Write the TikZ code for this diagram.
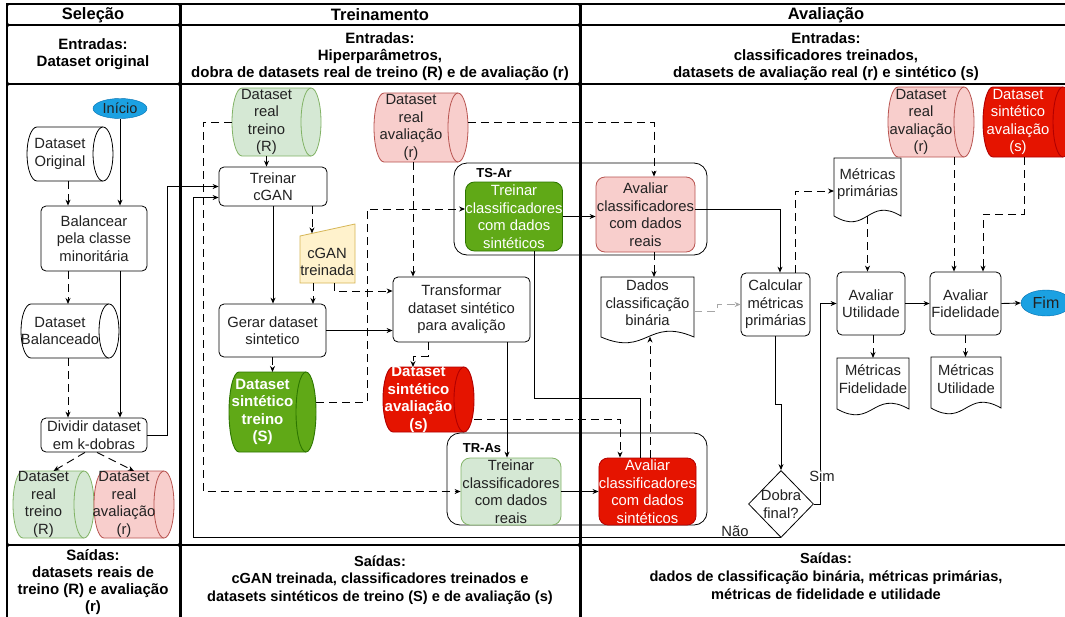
\documentclass[tikz,border=0pt]{standalone}
\usepackage{fontspec}
\setmainfont{Liberation Sans}
\usetikzlibrary{shapes.geometric,arrows.meta,calc}
\definecolor{lgfill}{HTML}{D5E8D4}\definecolor{lgdraw}{HTML}{82B366}
\definecolor{pkfill}{HTML}{F8CECC}\definecolor{pkdraw}{HTML}{B85450}
\definecolor{dgfill}{HTML}{60A917}\definecolor{dgdraw}{HTML}{2D7600}
\definecolor{rdfill}{HTML}{E51400}\definecolor{rddraw}{HTML}{B20000}
\definecolor{yefill}{HTML}{FFF2CC}\definecolor{yedraw}{HTML}{D6B656}
\definecolor{blfill}{HTML}{1BA1E2}\definecolor{bldraw}{HTML}{006EAF}
\definecolor{dtxt}{HTML}{222222}
\newcommand{\mybox}[7]{%
  \pgfmathsetmacro{\mbw}{#4-#2}\pgfmathsetmacro{\mbh}{#5-#3}%
  \pgfmathsetmacro{\mbx}{(#2+#4)/2}\pgfmathsetmacro{\mby}{(#3+#5)/2}%
  \node[#6, minimum width=\mbw pt, minimum height=\mbh pt] (#1) at (\mbx,\mby) {#7};}
\newcommand{\mycyl}[8]{%
  \pgfmathsetmacro{\cyry}{(#5-#3)/2}\pgfmathsetmacro{\cxa}{#2+10}\pgfmathsetmacro{\cxb}{#4-10}%
  \pgfmathsetmacro{\mbw}{#4-#2}\pgfmathsetmacro{\mbh}{#5-#3}%
  \pgfmathsetmacro{\mbx}{(#2+#4)/2}\pgfmathsetmacro{\mby}{(#3+#5)/2}\pgfmathsetmacro{\mbt}{(#2+#4)/2-10}%
  \filldraw[#6] (\cxb,#3) -- (\cxa,#3) arc[start angle=90,end angle=270,x radius=10pt,y radius=\cyry pt] -- (\cxb,#5) arc[start angle=-90,end angle=90,x radius=10pt,y radius=\cyry pt] -- cycle;
  \draw[#6] (\cxb,#5) arc[start angle=-90,end angle=-270,x radius=10pt,y radius=\cyry pt];
  \node[inner sep=0pt, outer sep=0pt, minimum width=\mbw pt, minimum height=\mbh pt] (#1) at (\mbx,\mby) {};
  \node[#7] (#1-t) at (\mbt,\mby) {#8};}
\newcommand{\mydoc}[7]{%
  \pgfmathsetmacro{\dxm}{(#2+#4)/2}\pgfmathsetmacro{\mbw}{#4-#2}\pgfmathsetmacro{\mbh}{#5-#3}\pgfmathsetmacro{\mby}{(#3+#5)/2}%
  \filldraw[docst] (#2,#5) -- (#2,#3) -- (#4,#3) -- (#4,#5) .. controls (\dxm,#5-20) and (\dxm,#5+20) .. (#2,#5) -- cycle;
  \node[inner sep=0pt, outer sep=0pt, minimum width=\mbw pt, minimum height=\mbh pt] (#1) at (\dxm,\mby) {};
  \node[txt] (#1-t) at (\dxm,#7) {#6};}
\begin{document}
\begin{tikzpicture}[x=1pt,y=-1pt,
  txt/.style={font=\fontsize{14.8}{17.5}\selectfont, align=center, inner sep=0pt, text=dtxt},
  txtw/.style={txt, text=white},
  txtwb/.style={font=\fontsize{15}{17.5}\selectfont\bfseries, align=center, inner sep=0pt, text=white},
  hdr/.style={font=\fontsize{16.5}{19}\selectfont\bfseries, align=center, inner sep=0pt},
  inp/.style={font=\fontsize{15}{17}\selectfont\bfseries, align=center, inner sep=0pt},
  outp/.style={font=\fontsize{14.6}{17.8}\selectfont\bfseries, align=center, inner sep=0pt},
  lbl/.style={font=\fontsize{13}{15}\selectfont\bfseries, inner sep=0pt},
  cell/.style={line width=1.6pt, rounded corners=2.5pt},
  proc/.style={draw, fill=white, rounded corners=5pt, line width=0.8pt, txt},
  procdg/.style={proc, fill=dgfill, draw=dgdraw, text=white, rounded corners=9pt},
  procp/.style={proc, fill=pkfill, draw=pkdraw, rounded corners=9pt},
  proclg/.style={proc, fill=lgfill, draw=lgdraw, rounded corners=9pt},
  procr/.style={proc, fill=rdfill, draw=rddraw, text=white, rounded corners=9pt},
  cont/.style={draw, rounded corners=13pt, line width=0.8pt},
  cylw/.style={draw=black, fill=white, line width=0.8pt},
  cylg/.style={draw=lgdraw, fill=lgfill, line width=0.8pt},
  cylp/.style={draw=pkdraw, fill=pkfill, line width=0.8pt},
  cyldg/.style={draw=dgdraw, fill=dgfill, line width=0.9pt},
  cylr/.style={draw=rddraw, fill=rdfill, line width=0.9pt},
  docst/.style={draw=black, fill=white, line width=0.8pt},
  ell/.style={ellipse, draw=bldraw, fill=blfill, inner sep=0pt, font=\fontsize{14.5}{17}\selectfont, text=dtxt},
  arr/.style={-{Stealth[length=6pt,width=5pt]}, line width=0.9pt},
  dsh/.style={arr, dash pattern=on 8pt off 5pt},
  dshg/.style={dsh, draw=gray!70},
  plain/.style={line width=0.9pt}
]
\useasboundingbox (0,0) rectangle (1065,616);
\fill[white] (0,0) rectangle (1065,616);
% table
\foreach \ca/\cb in {7/180,180/580,580/1080}{
  \draw[cell] (\ca,4) rectangle (\cb,25);
  \draw[cell] (\ca,25) rectangle (\cb,84);
  \draw[cell] (\ca,84) rectangle (\cb,545);
  \draw[cell] (\ca,545) rectangle (\cb,640);
}
\draw[line width=3pt] (180,3) -- (180,640);
\draw[line width=3pt] (580,3) -- (580,640);
\draw[line width=2.6pt] (7,640) -- (7,4) -- (1080,4);
\node[hdr] (h1) at (93,15) {Seleção};
\node[hdr] (h2) at (380,15) {Treinamento};
\node[hdr] (h3) at (826,15) {Avaliação};
\node[inp] (i1) at (93,54) {Entradas:\\Dataset original};
\node[inp] (i2) at (380,57) {Entradas:\\Hiperparâmetros,\\dobra de datasets real de treino (R) e de avaliação (r)};
\node[inp] (i3) at (826,57) {Entradas:\\classificadores treinados,\\datasets de avaliação real (r) e sintético (s)};
\node[outp, font=\fontsize{15}{17}\selectfont\bfseries] (o1) at (93,582) {Saídas:\\datasets reais de\\treino (R) e avaliação\\(r)};
\node[outp] (o2) at (380,580) {Saídas:\\cGAN treinada, classificadores treinados e\\datasets sintéticos de treino (S) e de avaliação (s)};
\node[outp] (o3) at (826,576) {Saídas:\\dados de classificação binária, métricas primárias,\\métricas de fidelidade e utilidade};

% Selecao
\node[ell, minimum width=54pt, minimum height=20pt] (inicio) at (120,108.5) {Início};
\mycyl{dsorig}{27}{127}{113}{181}{cylw}{txt}{Dataset\\Original}
\mybox{balancear}{41}{206}{147}{271}{proc}{Balancear\\pela classe\\minoritária}
\mycyl{dsbal}{21}{304}{119}{358}{cylw}{txt}{Dataset\\Balanceado}
\mybox{dividir}{41}{418}{147}{452}{proc}{Dividir dataset\\em k-dobras}
\mycyl{dsrt1}{13}{471}{94}{538}{cylg}{txt}{Dataset\\real\\treino\\(R)}
\mycyl{dsra1}{94}{471}{174}{538}{cylp}{txt}{Dataset\\real\\avaliação\\(r)}

% Treinamento
\mycyl{dsrt2}{232}{88}{321}{156}{cylg}{txt}{Dataset\\real\\treino\\(R)}
\mycyl{dsra2}{374}{93}{468}{162}{cylp}{txt}{Dataset\\real\\avaliação\\(r)}
\mybox{tcgan}{219}{167}{327}{206}{proc}{Treinar\\cGAN}
\node[inner sep=0pt, outer sep=0pt, minimum width=55pt, minimum height=59pt] (cgant) at (327.5,253.5) {};
\filldraw[fill=yefill, draw=yedraw, line width=0.8pt] ($(cgant.north west)+(0,12)$) -- (cgant.north east) -- (cgant.south east) -- (cgant.south west) -- cycle;
\node[txt] (cgant-t) at (327,262) {cGAN\\treinada};
\mybox{gerar}{219}{304}{326}{357}{proc}{Gerar dataset\\sintetico}
\mycyl{dsst}{229}{372}{316}{452}{cyldg}{txtwb}{Dataset\\sintético\\treino\\(S)}
\mybox{transf}{393}{277}{530}{342}{proc}{Transformar\\dataset sintético\\para avalição}
\mycyl{dssa}{383}{367}{474}{432}{cylr}{txtwb}{Dataset\\sintético\\avaliação\\(s)}
\mybox{tsar}{454}{163}{707}{255}{cont}{}
\node[lbl] (tsarl) at (494,173) {TS-Ar};
\mybox{tsg}{467}{182}{561}{251}{procdg}{Treinar\\classificadores\\com dados\\sintéticos}
\mybox{avr}{596}{177}{695}{252}{procp}{Avaliar\\classificadores\\com dados\\reais}
\mybox{trasc}{447}{433}{707}{525}{cont}{}
\node[lbl] (trasl) at (482,448) {TR-As};
\mybox{tras}{461}{458}{561}{525}{proclg}{Treinar\\classificadores\\com dados\\reais}
\mybox{avs}{601}{458}{694}{525}{procr}{Avaliar\\classificadores\\com dados\\sintéticos}

% Avaliacao
\mydoc{dados}{601}{277}{694}{337}{Dados\\classificação\\binária}{303}
\mybox{calc}{741}{273}{810}{336}{proc}{Calcular\\métricas\\primárias}
\mydoc{metp}{834}{158}{901}{216}{Métricas\\primárias}{184}
\mybox{util}{837}{272}{905}{335}{proc}{Avaliar\\Utilidade}
\mybox{fid}{930}{272}{1001}{335}{proc}{Avaliar\\Fidelidade}
\node[ell, minimum width=50pt, minimum height=26pt, font=\fontsize{16}{18}\selectfont] (fim) at (1046,303) {Fim};
\mydoc{metf}{837}{358}{909}{409}{Métricas\\Fidelidade}{379}
\mydoc{metu}{931}{357}{1001}{408}{Métricas\\Utilidade}{379}
\mycyl{dsra3}{888}{87}{974}{157}{cylp}{txt}{Dataset\\real\\avaliação\\(r)}
\mycyl{dssa3}{983}{87}{1073}{157}{cylr}{txtw}{Dataset\\sintético\\avaliação\\(s)}
\node[diamond, draw, fill=white, line width=0.8pt, minimum width=65pt, minimum height=67pt, inner sep=0pt] (dobra) at (781,504) {};
\node[txt] (dobra-t) at (781,504) {Dobra\\final?};

% connectors: Selecao
\draw[arr] (inicio.south) -- (inicio.south |- balancear.north);
\draw[dsh] ($(dsorig.south)+(-2,0)$) -- ($(balancear.north)+(-26,0)$);
\draw[dsh] ($(balancear.south)+(-26,0)$) -- ($(dsbal.north)+(-2,0)$);
\draw[dsh] ($(dsbal.south)+(-2,0)$) -- ($(dividir.north)+(-26,0)$);
\draw[arr] ($(balancear.south)+(26,0)$) -- ($(dividir.north)+(26,0)$);
\draw[arr] (dividir.east) -- ++(20,0) |- (tcgan.west);
\draw[dsh] ($(dividir.south)+(-9,0)$) -- (dsrt1.north);
\draw[dsh] ($(dividir.south)+(3,0)$) -- (dsra1.north);

% connectors: Treinamento
\draw[dsh] ($(dsrt2.south)+(-10,0)$) -- ($(tcgan.north)+(-6.5,0)$);
\draw[dsh] ($(dsrt2.west)+(0,0)$) -- ++(-29,0) |- (tras.west);
\draw[dsh] ($(dsra2.east)+(0,-5)$) -| ($(avr.north)+(8.5,0)$);
\draw[dsh] ($(dsra2.south)+(-8,0)$) -- ($(transf.north)+(-48.5,0)$);
\draw[dsh] ($(tcgan.south)+(39,0)$) -- ($(cgant.north west)+(12,9.4)$);
\draw[arr] (tcgan.south) -- (tcgan.south |- gerar.north);
\draw[dsh] ($(cgant.south)+(-14.5,0)$) -- ++(0,21);
\draw[dsh] ($(cgant.south)+(6.5,0)$) |- ($(transf.west)+(0,-18.5)$);
\draw[arr] (gerar.east) -- (gerar.east -| transf.west);
\draw[dsh] (gerar.south) -- (gerar.south |- dsst.north);
\draw[dsh] ($(dsst.east)+(0,-10)$) -- ++(51,0) |- ($(tsg.west)+(0,-7.5)$);
\draw[dsh] ($(transf.south)+(-33.5,0)$) -- ++(0,14) -| ($(dssa.north)+(-15.5,0)$);
\draw[arr] ($(transf.south)+(45.5,0)$) coordinate (ta) -- (ta |- tras.north);
\draw[dsh] ($(dssa.east)+(0,19.5)$) -| ($(avs.north)+(-27.5,0)$);
\draw[arr] (tsg.east) -- (tsg.east -| avr.west);
\draw[plain] ($(tsg.south)+(20,0)$) -- ++(0,147) -| ($(avs.north)+(-7.5,0)$);
\draw[arr] (tras.east) -- (tras.east -| avs.west);

% connectors: Avaliacao
\draw[dsh] ($(avr.south)+(8.5,0)$) coordinate (tb) -- (tb |- dados.north);
\draw[dsh] ($(avs.north)+(2.5,0)$) -- ++(0,-121);
\draw[arr] ($(avr.east)+(0,-5)$) -| ($(calc.north)+(4.5,0)$);
\draw[dshg] ($(dados.east)+(0,4)$) -- ++(23,0) |- (calc.west);
\draw[dsh] ($(calc.north)+(19.5,0)$) |- ($(metp.west)+(0,4)$);
\draw[arr] (calc.south) -- ++(0,68) -| (dobra.north);
\draw[arr] (dobra.east) -- ++(7,0) |- (util.west);
\draw[arr] (dobra.south) -- ++(-588,0) |- ($(tcgan.west)+(0,11)$);
\draw[arr] (util.east) -- (fid.west);
\draw[arr] (fid.east) -- (fim.west);
\draw[dsh] ($(util.south)+(2,0)$) coordinate (tc) -- (tc |- metf.north);
\draw[dsh] (fid.south) -- (fid.south |- metu.north);
\draw[dsh] (metp.south) -- (metp.south |- util.north);
\draw[dsh] ($(dsra3.south)+(23,0)$) coordinate (td) -- (td |- fid.north);
\draw[dsh] ($(dssa3.south)+(-4,0)$) -- ++(0,57) -| ($(fid.north)+(17.5,0)$);
\node[txt, fill=white, inner sep=1pt] (sim) at (822,476) {Sim};
\node[txt, fill=white, inner sep=1pt] (nao) at (735,531) {Não};
\end{tikzpicture}
\end{document}
